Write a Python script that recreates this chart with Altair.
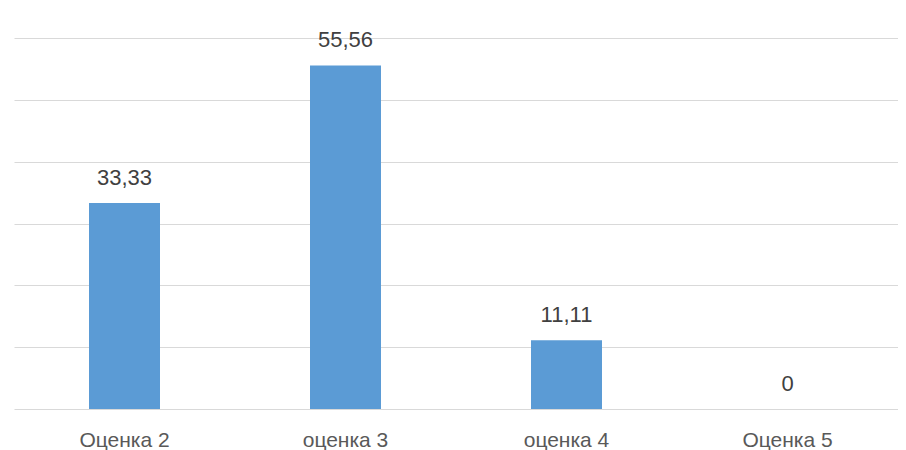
import altair as alt
import pandas as pd

categories = ["Оценка 2", "оценка 3", "оценка 4", "Оценка 5"]
values = [33.33, 55.56, 11.11, 0]
value_labels = ["33,33", "55,56", "11,11", "0"]

df = pd.DataFrame({"cat": categories, "val": values, "lbl": value_labels})

x = alt.X("cat:N", sort=categories, title=None,
          scale=alt.Scale(paddingInner=0, paddingOuter=0),
          axis=alt.Axis(labelAngle=0, ticks=False, domain=False,
                        labelFont="Liberation Sans", labelFontSize=21, labelColor="#595959",
                        labelPadding=20, grid=False))
y = alt.Y("val:Q", title=None,
          scale=alt.Scale(domain=[0, 60], nice=False),
          axis=alt.Axis(values=[0, 10, 20, 30, 40, 50, 60], labels=False, ticks=False, domain=False,
                        grid=True, gridColor="#d9d9d9", gridWidth=1))

bars = alt.Chart(df).mark_bar(width=71, color="#5B9BD5").encode(x=x, y=y)
text = alt.Chart(df).mark_text(baseline="alphabetic", dy=-18, font="Liberation Sans", fontSize=22,
                               color="#404040").encode(x=x, y=y, text="lbl:N")

chart = (bars + text).properties(
    width=884, height=371, background="white",
    padding={"left": 6, "top": 21, "right": 0, "bottom": 0},
).configure_view(strokeWidth=0)

chart.save("out.html", embed_options={"renderer": "svg", "actions": False})
